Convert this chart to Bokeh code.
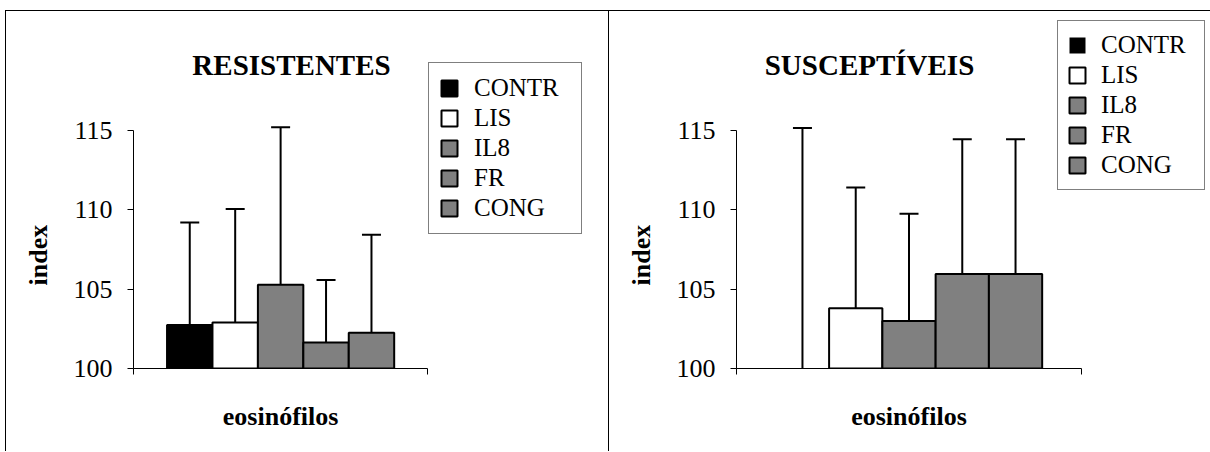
from bokeh.plotting import figure
from bokeh.models import (Range1d, FixedTicker, ColumnDataSource, Whisker, TeeHead,
                          Label, Legend, LegendItem, Title, LinearAxis)
from bokeh.layouts import row
from bokeh.embed import file_html
from bokeh.resources import INLINE

# ---------------- data ----------------
categories = ["CONTR", "LIS", "IL8", "FR", "CONG"]
bar_colors = ["black", "white", "#808080", "#808080", "#808080"]

res_mean = [102.74, 102.90, 105.27, 101.64, 102.25]
res_sd = [6.46, 7.15, 9.93, 3.94, 6.18]

sus_mean = [100.00, 103.79, 102.99, 105.95, 105.95]
sus_sd = [15.15, 7.61, 6.76, 8.50, 8.50]

y_ticks = [100, 105, 110, 115]
x_label = "eosinófilos"
y_label = "index"
titles = ["RESISTENTES", "SUSCEPTÍVEIS"]

FONT = "Liberation Serif"
PX_PER_UNIT = 15.827
FRAME_H = 354
BASE = 100


def make_panel(title, means, sds, border_left, frame_w, axis_px, title_x,
               leg_x, leg_y, leg_pad, leg_std, leg_lw, styles, margin):
    p = figure(frame_width=frame_w, frame_height=FRAME_H,
               x_range=Range1d(0, frame_w / axis_px),
               y_range=Range1d(BASE, BASE + FRAME_H / PX_PER_UNIT),
               output_backend="svg", toolbar_location=None,
               min_border_left=border_left, min_border_right=0,
               min_border_top=2, min_border_bottom=84)
    p.outline_line_color = None
    p.grid.visible = False
    p.background_fill_color = "white"
    p.border_fill_color = "white"
    p.styles = styles
    p.margin = margin

    # y axis
    ya = p.yaxis[0]
    ya.ticker = FixedTicker(ticks=y_ticks)
    ya.bounds = (100, 115)
    ya.major_tick_in = 0
    ya.major_tick_out = 6
    ya.minor_tick_in = 0
    ya.minor_tick_out = 0
    ya.major_label_standoff = 15
    ya.major_label_text_font = FONT
    ya.major_label_text_font_size = "26px"
    ya.major_label_text_color = "black"
    ya.axis_line_color = "black"
    ya.major_tick_line_color = "black"

    # x axis (line + end ticks only)
    xa = p.xaxis[0]
    xa.ticker = FixedTicker(ticks=[0, 1])
    xa.bounds = (0, 1)
    xa.major_tick_in = 0
    xa.major_tick_out = 6
    xa.minor_tick_in = 0
    xa.minor_tick_out = 0
    xa.major_label_text_font_size = "0px"
    xa.major_label_overrides = {0: "", 1: ""}
    xa.axis_line_color = "black"
    xa.major_tick_line_color = "black"

    # category name under the axis, centred on the category
    xa2 = LinearAxis(ticker=FixedTicker(ticks=[0.5]),
                     major_label_overrides={0.5: x_label},
                     axis_line_color=None, major_tick_line_color=None,
                     minor_tick_line_color=None, major_tick_in=0, major_tick_out=0,
                     minor_tick_in=0, minor_tick_out=0,
                     major_label_standoff=27, major_label_text_font=FONT,
                     major_label_text_font_size="26px",
                     major_label_text_font_style="bold",
                     major_label_text_color="black")
    p.add_layout(xa2, "below")

    group_w = 0.772
    bw = group_w / len(categories)
    xs = [0.5 + (i - 2) * bw for i in range(len(categories))]
    uppers = [m + s for m, s in zip(means, sds)]
    lws = [0 if m <= BASE else 2 for m in means]
    src = ColumnDataSource(dict(x=xs, top=means, upper=uppers, color=bar_colors,
                                label=categories, lw=lws))

    wh = Whisker(base="x", lower="top", upper="upper", source=src, dimension="height",
                 line_color="black", line_width=2,
                 upper_head=TeeHead(size=19, line_color="black", line_width=2),
                 lower_head=None, level="underlay")
    p.add_layout(wh)

    r = p.vbar(x="x", top="top", bottom=BASE, width=bw, source=src,
               fill_color="color", line_color="black", line_width="lw")

    items = [LegendItem(label=c, renderers=[r], index=i) for i, c in enumerate(categories)]
    leg = Legend(items=items, location=(leg_x, leg_y), padding=leg_pad, spacing=0,
                 margin=0, label_height=30, glyph_width=20, glyph_height=20,
                 label_standoff=leg_std, label_width=leg_lw,
                 border_line_color="black", border_line_width=1,
                 background_fill_color="white", background_fill_alpha=1,
                 label_text_font=FONT, label_text_font_size="25px",
                 label_text_color="black")
    p.add_layout(leg)

    p.add_layout(Label(x=title_x, y=304, x_units="screen", y_units="screen",
                       text=title, text_font=FONT, text_font_size="29px",
                       text_font_style="bold", text_align="center",
                       text_baseline="alphabetic", text_color="black"))
    p.add_layout(Title(text=y_label, align="left", offset=83, vertical_align="middle",
                       text_font=FONT, text_font_size="26px", text_font_style="bold",
                       text_color="black", standoff=33), "left")
    return p


p1 = make_panel(titles[0], res_mean, res_sd, border_left=125, frame_w=475, axis_px=293,
                title_x=158, leg_x=295, leg_y=134,
                leg_pad=10, leg_std=15, leg_lw=97,
                styles={"border-left": "1px solid black", "border-top": "1px solid black",
                        "border-right": "1px solid black"},
                margin=(10, 0, 0, 5))
p2 = make_panel(titles[1], sus_mean, sus_sd, border_left=123, frame_w=477, axis_px=345,
                title_x=133, leg_x=321, leg_y=178,
                leg_pad=9, leg_std=14, leg_lw=94,
                styles={"border-top": "1px solid black"},
                margin=(10, 0, 0, 0))

layout = row(p1, p2, spacing=0)
open("out.html", "w").write(file_html(layout, INLINE))
